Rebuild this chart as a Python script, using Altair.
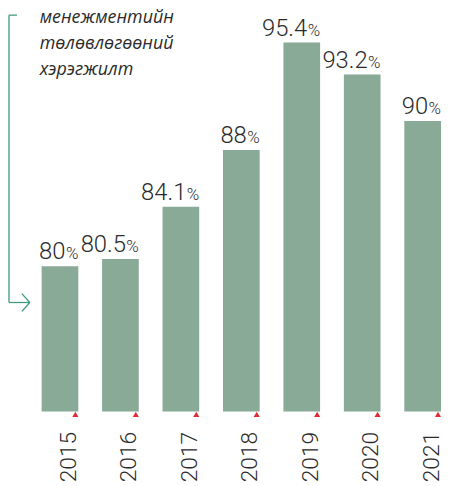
import altair as alt
import pandas as pd

years = ["2015", "2016", "2017", "2018", "2019", "2020", "2021"]
values = [80, 80.5, 84.1, 88, 95.4, 93.2, 90]
numbers = ["80", "80.5", "84.1", "88", "95.4", "93.2", "90"]
legend_lines = ["менежментийн", "төлөвлөгөөний", "хэрэгжилт"]

Y_MIN = 70
Y_MAX = 97.63

df = pd.DataFrame({"year": years, "value": values, "num": numbers, "pct": ["%"] * len(years)})

NUM_FONT = "Roboto"
TXT = "#2b2b2b"
GREEN = "#3d9a7a"

x_axis = alt.X(
    "year:N", sort=years,
    scale=alt.Scale(paddingInner=0.393, paddingOuter=0.2455, align=1),
    axis=alt.Axis(title=None, domain=False, ticks=False, labelAngle=270,
                  labelFontSize=23, labelFont=NUM_FONT, labelFontWeight=300, labelColor=TXT,
                  labelPadding=20, labelOffset=9),
)
y_enc = alt.Y("value:Q", scale=alt.Scale(domain=[Y_MIN, Y_MAX], zero=False, nice=False), axis=None)

bars = alt.Chart(df).mark_bar(color="#88aa97").encode(x=x_axis, y=y_enc, y2=alt.datum(Y_MIN))

x_right = alt.X("year:N", sort=years, bandPosition=1)

num_text = alt.Chart(df).mark_text(
    align="right", baseline="alphabetic", dx=-13, dy=-7, fontSize=24, fontWeight=300,
    font=NUM_FONT, color=TXT
).encode(x=x_right, y=alt.Y("value:Q"), text="num:N")

pct_text = alt.Chart(df).mark_text(
    align="right", baseline="alphabetic", dx=0, dy=-7, fontSize=17, fontWeight=300,
    font=NUM_FONT, color=TXT
).encode(x=x_right, y=alt.Y("value:Q"), text="pct:N")

tri = alt.Chart(df).mark_point(
    shape="triangle-up", filled=True, color="#e02b35", size=38, opacity=1, xOffset=-3, yOffset=3
).encode(x=x_right, y=alt.datum(Y_MIN))

one = pd.DataFrame({"a": [0]})

def seg(x1, y1, x2, y2):
    return alt.Chart(one).mark_rule(color=GREEN, strokeWidth=1.3).encode(
        x=alt.value(x1), y=alt.value(y1), x2=alt.value(x2), y2=alt.value(y2))

bracket = [
    seg(-3, 5, 5, 5),
    seg(-3, 5, -3, 295),
    seg(-3, 295, 18, 295),
    seg(10, 286, 18, 295),
    seg(10, 304, 18, 295),
]

legend_text = [
    alt.Chart(one).mark_text(
        align="left", baseline="alphabetic", fontSize=18, fontStyle="italic",
        font="Open Sans", color=TXT, text=line
    ).encode(x=alt.value(28), y=alt.value(yy))
    for line, yy in zip(legend_lines, [13, 39, 65])
]

chart = alt.layer(bars, num_text, pct_text, tri, *bracket, *legend_text).properties(
    width=433, height=405,
    padding={"left": 4, "top": 0, "right": 0, "bottom": 75},
    autosize=alt.AutoSizeParams(type="none"),
).configure_view(stroke=None)

chart.save("out.html", embed_options={"renderer": "svg", "actions": False})
